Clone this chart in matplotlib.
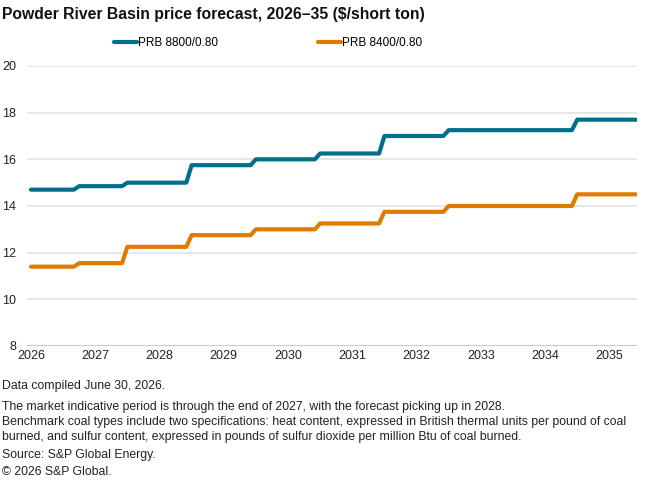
import matplotlib
matplotlib.use("Agg")
import matplotlib.pyplot as plt
import pandas as pd

plt.rcParams['font.family'] = ['Liberation Sans', 'DejaVu Sans']

# vertices of the monthly step lines (start/end of each flat)
dates = ["2026-01", "2026-09", "2026-10", "2027-06", "2027-07", "2028-06", "2028-07",
         "2029-06", "2029-07", "2030-06", "2030-07", "2031-06", "2031-07", "2032-06",
         "2032-07", "2034-06", "2034-07", "2035-06"]
prb_8800 = [14.7, 14.7, 14.85, 14.85, 15.0, 15.0, 15.75, 15.75, 16.0, 16.0, 16.25, 16.25,
            17.0, 17.0, 17.25, 17.25, 17.7, 17.7]
prb_8400 = [11.4, 11.4, 11.55, 11.55, 12.25, 12.25, 12.75, 12.75, 13.0, 13.0, 13.25, 13.25,
            13.75, 13.75, 14.0, 14.0, 14.5, 14.5]
years = list(range(2026, 2036))

title = "Powder River Basin price forecast, 2026\u201335 ($/short ton)"
notes = [
    ("Data compiled June 30, 2026.", 386),
    ("The market indicative period is through the end of 2027, with the forecast picking up in 2028.", 407),
    ("Benchmark coal types include two specifications: heat content, expressed in British thermal units per pound of coal", 422),
    ("burned, and sulfur content, expressed in pounds of sulfur dioxide per million Btu of coal burned.", 437),
    ("Source: S&P Global Energy.", 455),
    ("\u00a9 2026 S&P Global.", 472),
]

# convert to fractional years
d = pd.to_datetime(dates)
x = d.year + (d.month - 1) / 12

W, H = 662, 480
fig = plt.figure(figsize=(W / 100, H / 100), dpi=100)
ax = fig.add_axes([27 / W, 1 - 346 / H, (637 - 27) / W, (346 - 66) / H])

ax.plot(x, prb_8800, color="#006f8a", lw=3, solid_capstyle="round", solid_joinstyle="round",
        label="PRB 8800/0.80", zorder=3)
ax.plot(x, prb_8400, color="#e07b00", lw=3, solid_capstyle="round", solid_joinstyle="round",
        label="PRB 8400/0.80", zorder=3)

ax.set_ylim(8, 20)
ax.set_yticks(range(8, 21, 2))
ax.set_xlim(2026 - 0.062, 2035.43)
ax.set_xticks(years)
ax.set_xticklabels([str(y) for y in years])
ax.grid(axis="y", color="#e3e3e3", lw=1.2)
ax.axhline(8, color="#cccccc", lw=1.5, zorder=2)
for s in ax.spines.values():
    s.set_visible(False)
ax.tick_params(length=0, labelsize=9, colors="#222222")
ax.tick_params(axis="y", pad=8)
ax.tick_params(axis="x", pad=3)
for lbl in ax.get_yticklabels():
    lbl.set_horizontalalignment("right")

fig.text(2 / W, 1 - 14 / H, title, fontsize=11.3, fontweight="bold", va="center", ha="left",
         color="#111111")

fig.legend(loc="center left", bbox_to_anchor=(103 / W, 1 - 43 / H), ncol=2, frameon=False,
           fontsize=8.5, handlelength=2.0, handletextpad=0.1, columnspacing=8.4)

for txt, yp in notes:
    fig.text(2 / W, 1 - yp / H, txt, fontsize=8.8, va="center", ha="left", color="#222222")

fig.savefig("out.png", dpi=100)
